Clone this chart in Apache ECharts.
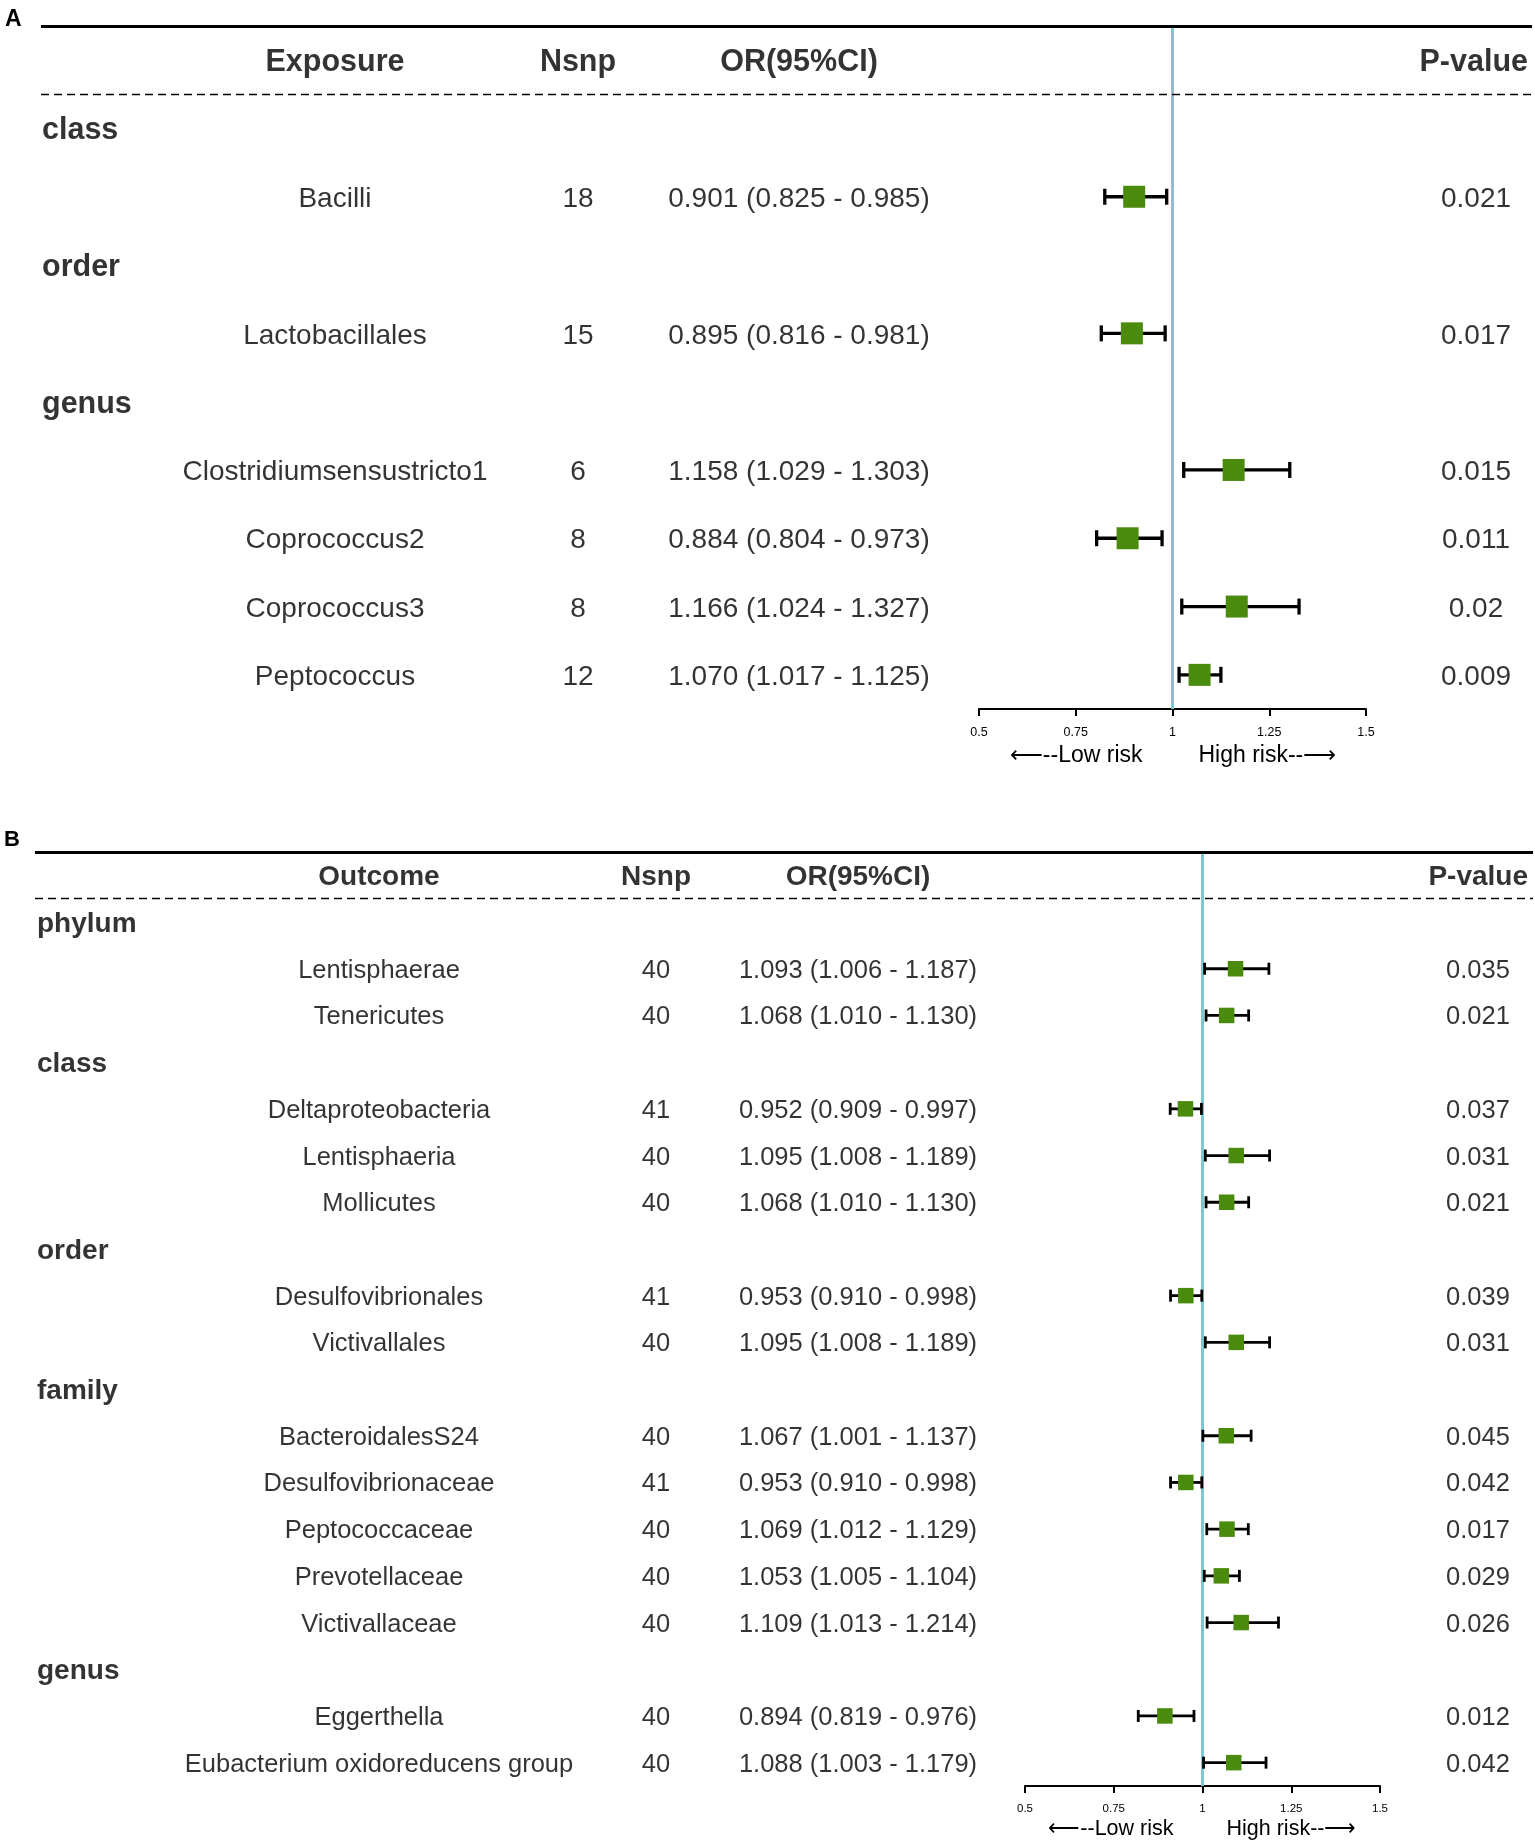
<!DOCTYPE html>
<html>
<head>
<meta charset="utf-8">
<script src="https://cdn.jsdelivr.net/npm/echarts@6/dist/echarts.min.js"></script>
<style>
html,body{margin:0;padding:0;background:#fff;}
#chart{width:1535px;height:1847px;}
</style>
</head>
<body>
<div id="chart"></div>
<script>
// ---------------- DATA ----------------
const A_header = ['Exposure', 'Nsnp', 'OR(95%CI)', 'P-value'];
const A_labels = ['class', 'Bacilli', 'order', 'Lactobacillales', 'genus',
  'Clostridiumsensustricto1', 'Coprococcus2', 'Coprococcus3', 'Peptococcus'];
const A_nsnp = [null, 18, null, 15, null, 6, 8, 8, 12];
const A_or   = [null, 0.901, null, 0.895, null, 1.158, 0.884, 1.166, 1.070];
const A_low  = [null, 0.825, null, 0.816, null, 1.029, 0.804, 1.024, 1.017];
const A_high = [null, 0.985, null, 0.981, null, 1.303, 0.973, 1.327, 1.125];
const A_p    = [null, '0.021', null, '0.017', null, '0.015', '0.011', '0.02', '0.009'];

const B_header = ['Outcome', 'Nsnp', 'OR(95%CI)', 'P-value'];
const B_labels = ['phylum', 'Lentisphaerae', 'Tenericutes',
  'class', 'Deltaproteobacteria', 'Lentisphaeria', 'Mollicutes',
  'order', 'Desulfovibrionales', 'Victivallales',
  'family', 'BacteroidalesS24', 'Desulfovibrionaceae', 'Peptococcaceae', 'Prevotellaceae', 'Victivallaceae',
  'genus', 'Eggerthella', 'Eubacterium oxidoreducens group'];
const B_nsnp = [null, 40, 40, null, 41, 40, 40, null, 41, 40, null, 40, 41, 40, 40, 40, null, 40, 40];
const B_or   = [null, 1.093, 1.068, null, 0.952, 1.095, 1.068, null, 0.953, 1.095, null, 1.067, 0.953, 1.069, 1.053, 1.109, null, 0.894, 1.088];
const B_low  = [null, 1.006, 1.010, null, 0.909, 1.008, 1.010, null, 0.910, 1.008, null, 1.001, 0.910, 1.012, 1.005, 1.013, null, 0.819, 1.003];
const B_high = [null, 1.187, 1.130, null, 0.997, 1.189, 1.130, null, 0.998, 1.189, null, 1.137, 0.998, 1.129, 1.104, 1.214, null, 0.976, 1.179];
const B_p    = [null, '0.035', '0.021', null, '0.037', '0.031', '0.021', null, '0.039', '0.031', null, '0.045', '0.042', '0.017', '0.029', '0.026', null, '0.012', '0.042'];

const axisTickValues = [0.5, 0.75, 1, 1.25, 1.5];
const axisTickLabels = ['0.5', '0.75', '1', '1.25', '1.5'];
const lowRiskText = '\u27F5--Low risk';
const highRiskText = 'High risk--\u27F6';

// ---------------- LAYOUT ----------------
const FONT = '"Liberation Sans", Arial, Helvetica, sans-serif';
const GREEN = '#4a8a0c';
const CYAN = '#7cc8d0';

const panels = [
  {
    header: A_header, labels: A_labels, nsnp: A_nsnp, or: A_or, low: A_low, high: A_high, p: A_p,
    textLeft: 41, textRight: 1532, top: 26, height: 683, rows: A_labels.length,
    forestLeft: 979, forestRight: 1366,
    fs: 28, boldFs: 30.5, tickFs: 12.5, riskFs: 23, riskDy: 47, riskGapL: 30, riskGapR: 26,
    box: 22, capH: 16, lw: 3.3, dy: 2.5,
    groupX: 42, nameX: 335, nsnpX: 578, orX: 799, pX: 1476, pHeadRight: 1528,
    tag: 'A', tagX: 5, tagY: 8, tagFs: 23
  },
  {
    header: B_header, labels: B_labels, nsnp: B_nsnp, or: B_or, low: B_low, high: B_high, p: B_p,
    textLeft: 35, textRight: 1533, top: 852, height: 934, rows: B_labels.length,
    forestLeft: 1025, forestRight: 1380,
    fs: 25.5, boldFs: 28, tickFs: 11.5, riskFs: 21.5, riskDy: 43, riskGapL: 29, riskGapR: 24,
    box: 15.5, capH: 12, lw: 2.8, dy: 2,
    groupX: 37, nameX: 379, nsnpX: 656, orX: 858, pX: 1478, pHeadRight: 1528,
    tag: 'B', tagX: 4, tagY: 829, tagFs: 22
  }
];

const grids = [], xAxes = [], yAxes = [], series = [];

function textSeries(ax, items, fs, bold, align, dy, extra) {
  const s = {
    type: 'scatter', xAxisIndex: ax, yAxisIndex: ax, symbolSize: 1, silent: true, z: 5,
    itemStyle: { color: 'rgba(0,0,0,0)' },
    emphasis: { disabled: true },
    label: {
      show: true, position: 'inside', formatter: '{b}', color: '#000',
      fontSize: fs, fontWeight: bold ? 'bold' : 'normal', fontFamily: FONT,
      align: align, verticalAlign: 'middle', offset: [0, dy]
    },
    data: items.map(it => ({ name: it.t, value: [it.x, it.y] }))
  };
  return Object.assign(s, extra || {});
}

panels.forEach((P, k) => {
  const tIdx = k * 2, fIdx = k * 2 + 1;
  const yMin = -1.5, yMax = P.rows - 0.5;
  // text grid
  grids.push({ left: P.textLeft, width: P.textRight - P.textLeft, top: P.top, height: P.height, outerBoundsMode: 'none' });
  xAxes.push({ gridIndex: tIdx, type: 'value', min: P.textLeft, max: P.textRight, show: false });
  yAxes.push({ gridIndex: tIdx, type: 'value', min: yMin, max: yMax, inverse: true, show: false });
  // forest grid
  grids.push({ left: P.forestLeft, width: P.forestRight - P.forestLeft, top: P.top, height: P.height, outerBoundsMode: 'none' });
  xAxes.push({
    gridIndex: fIdx, type: 'value', min: 0.5, max: 1.5, interval: 0.25, position: 'bottom',
    axisLine: { show: true, onZero: false, lineStyle: { color: '#000', width: 2 } },
    axisTick: { show: true, inside: false, length: 7, lineStyle: { color: '#000', width: 2 } },
    axisLabel: {
      show: true, color: '#000', fontSize: P.tickFs, fontFamily: FONT, margin: 17,
      formatter: v => { const i = axisTickValues.findIndex(t => Math.abs(t - v) < 1e-9); return i >= 0 ? axisTickLabels[i] : ''; }
    },
    splitLine: { show: false }
  });
  yAxes.push({ gridIndex: fIdx, type: 'value', min: yMin, max: yMax, inverse: true, show: false });

  // header row (y = -1) plus rule lines
  series.push(textSeries(tIdx, [
    { t: P.header[0], x: P.nameX, y: -1 },
    { t: P.header[1], x: P.nsnpX, y: -1 },
    { t: P.header[2], x: P.orX, y: -1 }
  ], P.boldFs, true, 'center', P.dy, {
    markLine: {
      silent: true, symbol: 'none', label: { show: false }, emphasis: { disabled: true },
      data: [
        { yAxis: -1.5, lineStyle: { color: '#000', width: 3, type: 'solid' } },
        { yAxis: -0.5, lineStyle: { color: '#000', width: 1.4, type: [8, 5] } }
      ]
    }
  }));
  series.push(textSeries(tIdx, [{ t: P.header[3], x: P.pHeadRight, y: -1 }], P.boldFs, true, 'right', P.dy));

  const groups = [], names = [], ns = [], ors = [], ps = [], forest = [];
  P.labels.forEach((lab, i) => {
    if (P.nsnp[i] == null) {
      groups.push({ t: lab, x: P.groupX, y: i });
    } else {
      names.push({ t: lab, x: P.nameX, y: i });
      ns.push({ t: String(P.nsnp[i]), x: P.nsnpX, y: i });
      ors.push({ t: P.or[i].toFixed(3) + ' (' + P.low[i].toFixed(3) + ' - ' + P.high[i].toFixed(3) + ')', x: P.orX, y: i });
      ps.push({ t: P.p[i], x: P.pX, y: i });
      forest.push([i, P.or[i], P.low[i], P.high[i]]);
    }
  });
  series.push(textSeries(tIdx, groups, P.boldFs, true, 'left', P.dy));
  series.push(textSeries(tIdx, names, P.fs, false, 'center', P.dy));
  series.push(textSeries(tIdx, ns, P.fs, false, 'center', P.dy));
  series.push(textSeries(tIdx, ors, P.fs, false, 'center', P.dy));
  series.push(textSeries(tIdx, ps, P.fs, false, 'center', P.dy));

  series.push({
    type: 'custom', xAxisIndex: fIdx, yAxisIndex: fIdx, silent: true, z: 4,
    encode: { x: [1, 2, 3], y: 0 },
    data: forest,
    renderItem: function (params, api) {
      const y = api.value(0), or = api.value(1), lo = api.value(2), hi = api.value(3);
      const a = api.coord([lo, y]), b = api.coord([hi, y]), c = api.coord([or, y]);
      const st = { stroke: '#000', lineWidth: P.lw };
      const h = P.capH / 2, s = P.box;
      return {
        type: 'group', children: [
          { type: 'line', shape: { x1: a[0], y1: a[1], x2: b[0], y2: b[1] }, style: st },
          { type: 'line', shape: { x1: a[0], y1: a[1] - h, x2: a[0], y2: a[1] + h }, style: st },
          { type: 'line', shape: { x1: b[0], y1: b[1] - h, x2: b[0], y2: b[1] + h }, style: st },
          { type: 'rect', shape: { x: c[0] - s / 2, y: c[1] - s / 2, width: s, height: s }, style: { fill: GREEN } }
        ]
      };
    },
    markLine: {
      silent: true, symbol: 'none', label: { show: false }, emphasis: { disabled: true }, z: 3,
      data: [{ xAxis: 1, lineStyle: { color: CYAN, width: 3, type: 'solid' } }]
    }
  });
});

const chart = echarts.init(document.getElementById('chart'), null, { renderer: 'canvas' });
chart.setOption({
  backgroundColor: '#fff',
  animation: false,
  grid: grids, xAxis: xAxes, yAxis: yAxes, series: series
});

// panel tags and risk captions positioned from the axes
const graphics = [];
panels.forEach((P, k) => {
  const fIdx = k * 2 + 1;
  const one = chart.convertToPixel({ gridIndex: fIdx }, [1, P.rows - 0.5]);
  graphics.push({
    type: 'text', left: P.tagX, top: P.tagY,
    style: { text: P.tag, font: 'bold ' + P.tagFs + 'px ' + FONT, fill: '#000' }
  });
  graphics.push({
    type: 'text', x: one[0] - P.riskGapL, y: one[1] + P.riskDy,
    style: { text: lowRiskText, font: P.riskFs + 'px ' + FONT, fill: '#000', align: 'right', verticalAlign: 'middle' }
  });
  graphics.push({
    type: 'text', x: one[0] + P.riskGapR, y: one[1] + P.riskDy,
    style: { text: highRiskText, font: P.riskFs + 'px ' + FONT, fill: '#000', align: 'left', verticalAlign: 'middle' }
  });
});
chart.setOption({ graphic: graphics });
</script>
</body>
</html>
